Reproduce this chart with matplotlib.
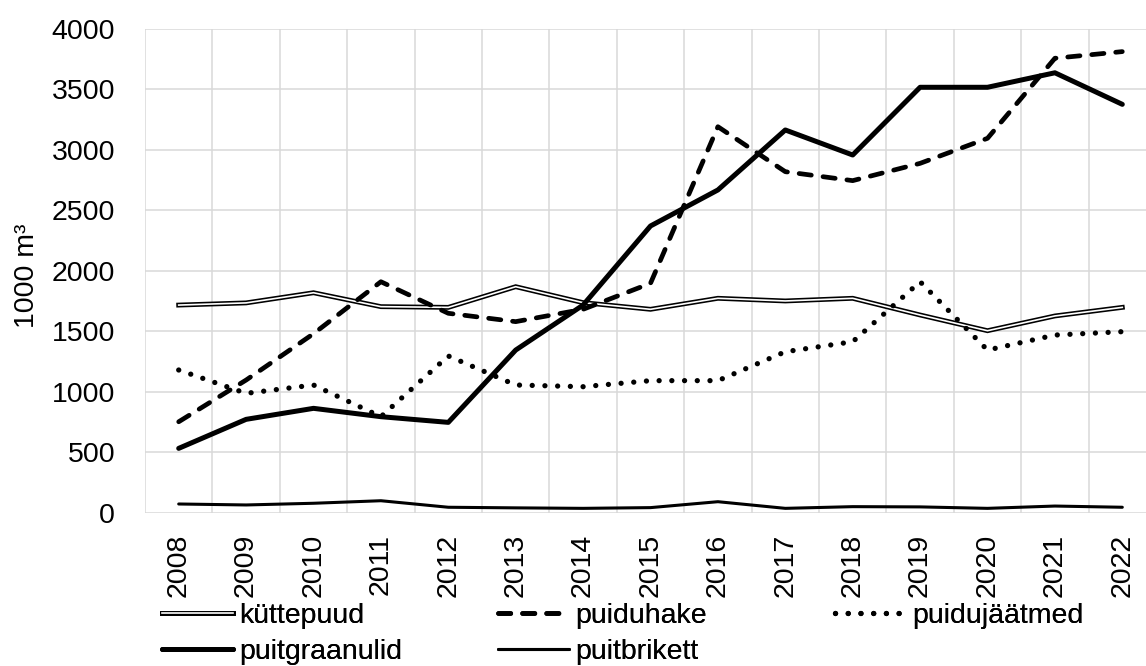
import matplotlib.pyplot as plt
from matplotlib.legend_handler import HandlerTuple

years = ['2008', '2009', '2010', '2011', '2012', '2013', '2014', '2015',
         '2016', '2017', '2018', '2019', '2020', '2021', '2022']
kuttepuud = [1717, 1735, 1819, 1704, 1698, 1869, 1737, 1682, 1773, 1751, 1773, 1635, 1505, 1627, 1698]
puiduhake = [752, 1097, 1480, 1910, 1649, 1580, 1682, 1897, 3192, 2820, 2746, 2889, 3096, 3758, 3813]
puidujaatmed = [1180, 987, 1056, 794, 1296, 1056, 1042, 1092, 1092, 1331, 1414, 1910, 1345, 1469, 1497]
puitgraanulid = [532, 772, 863, 794, 747, 1345, 1717, 2371, 2669, 3165, 2958, 3518, 3518, 3638, 3377]
puitbrikett = [72, 64, 78, 99, 45, 40, 36, 42, 91, 36, 50, 48, 36, 55, 45]
labels = ['küttepuud', 'puiduhake', 'puidujäätmed', 'puitgraanulid', 'puitbrikett']

plt.rcParams['font.family'] = ['Liberation Sans', 'DejaVu Sans']
fs = 20.5

fig = plt.figure(figsize=(11.46, 6.66), dpi=100)
ax = fig.add_axes([145 / 1146, 153.3 / 666, 1011 / 1146, 483.7 / 666])

x = list(range(len(years)))

# double line: black with white core
k1, = ax.plot(x, kuttepuud, color='black', lw=3.5, solid_joinstyle='miter', zorder=3)
k2, = ax.plot(x, kuttepuud, color='white', lw=1.2, solid_joinstyle='miter', zorder=3)
h, = ax.plot(x, puiduhake, color='black', lw=3.4, linestyle=(0, (2.6, 2.5)),
             dash_capstyle='round', zorder=4)
d, = ax.plot(x, puidujaatmed, color='black', lw=3.8, linestyle=(0, (0.01, 2.4)),
             dash_capstyle='round', zorder=5)
g, = ax.plot(x, puitgraanulid, color='black', lw=3.6, solid_capstyle='round', zorder=6)
b, = ax.plot(x, puitbrikett, color='black', lw=2.2, solid_capstyle='round', zorder=7)

ax.set_xlim(-0.5, 14.5)
ax.set_ylim(0, 4000)
ax.set_yticks(range(0, 4001, 500))
ax.set_xticks(x)
ax.set_xticklabels(years, rotation=90, fontsize=fs)
ax.set_xticks([i - 0.5 for i in range(len(years) + 1)], minor=True)
ax.tick_params(axis='y', length=0, pad=21.5, labelsize=fs)
ax.tick_params(axis='x', which='both', length=0, pad=15)
ax.grid(axis='y', color='#d9d9d9', lw=1.1)
ax.grid(axis='x', which='minor', color='#d9d9d9', lw=1.1)
ax.set_axisbelow(True)
for s in ax.spines.values():
    s.set_visible(False)

fig.text(27 / 1146, 1 - 276 / 666, '1000 m³', rotation=90, ha='center', va='center',
         fontsize=fs)

# legend entries placed one by one like the original layout
entries = [
    ((k1, k2), labels[0], 162, 616),
    (h, labels[1], 498, 616),
    (d, labels[2], 835, 616),
    (g, labels[3], 162, 652),
    (b, labels[4], 498, 652),
]
for handle, lab, px, py in entries:
    leg = fig.legend([handle], [lab], loc='center left',
                     bbox_to_anchor=(px / 1146, 1 - py / 666),
                     frameon=False, fontsize=fs, handlelength=2.5, handletextpad=0.2,
                     borderpad=0, borderaxespad=0,
                     handler_map={tuple: HandlerTuple(ndivide=1)})
    fig.add_artist(leg)

fig.savefig('out.png', dpi=100)
